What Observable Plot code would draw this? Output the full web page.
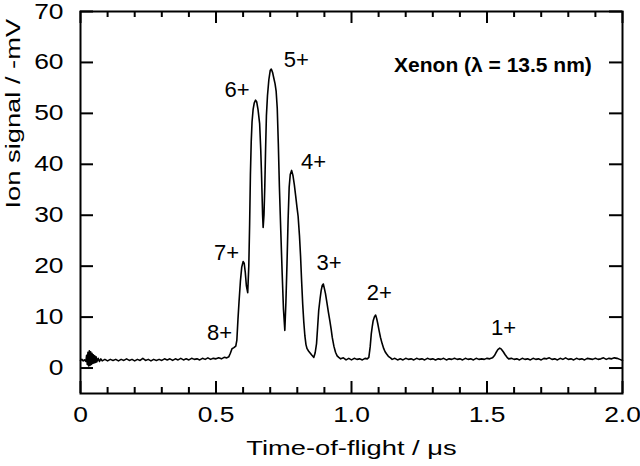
<!DOCTYPE html>
<html>
<head>
<meta charset="utf-8">
<script src="https://cdn.jsdelivr.net/npm/d3@7"></script>
<script src="https://cdn.jsdelivr.net/npm/@observablehq/plot@0.6"></script>
<style>
html, body { margin: 0; padding: 0; background: #fff; }
#chart svg { display: block; }
</style>
</head>
<body>
<div id="chart"></div>
<script>
// Time-of-flight (µs)
const time = [
  0.000, 0.005, 0.010, 0.015, 0.020, 0.0225, 0.025, 0.0275, 0.030, 0.0325, 0.035, 0.0375, 0.040, 0.0425, 0.045, 0.0475,
  0.050, 0.0525, 0.055, 0.0575, 0.060, 0.065, 0.070, 0.075, 0.080, 0.09,
  0.10, 0.11, 0.12, 0.13, 0.14, 0.15, 0.16, 0.17, 0.18, 0.19,
  0.20, 0.21, 0.22, 0.23, 0.24, 0.25, 0.26, 0.27, 0.28, 0.29,
  0.30, 0.31, 0.32, 0.33, 0.34, 0.35, 0.36, 0.37, 0.38, 0.39,
  0.40, 0.41, 0.42, 0.43, 0.44, 0.45, 0.46, 0.47, 0.48, 0.49,
  0.50, 0.51, 0.52, 0.53, 0.540, 0.547, 0.553, 0.559, 0.566, 0.573, 0.577, 0.581, 0.585, 0.590, 0.595,
  0.600, 0.604, 0.608, 0.612, 0.617, 0.621, 0.624, 0.627, 0.630, 0.633, 0.637, 0.641, 0.646,
  0.650, 0.655, 0.661, 0.665, 0.668, 0.672, 0.674, 0.677, 0.680, 0.683, 0.686, 0.690, 0.695,
  0.700, 0.704, 0.709, 0.713, 0.718, 0.722, 0.726, 0.730, 0.734, 0.739, 0.744, 0.749,
  0.754, 0.758, 0.762, 0.766, 0.770, 0.774, 0.779, 0.784, 0.789, 0.794, 0.799,
  0.803, 0.808, 0.812, 0.816, 0.820, 0.824, 0.828, 0.832, 0.836, 0.842, 0.848,
  0.854, 0.861, 0.866, 0.871, 0.875, 0.879, 0.884, 0.888, 0.892, 0.896,
  0.900, 0.904, 0.910, 0.915, 0.920, 0.925, 0.929, 0.935, 0.941, 0.947, 0.953,
  0.96, 0.97, 0.98, 0.99, 1.00, 1.01, 1.02, 1.03, 1.04, 1.05, 1.058,
  1.064, 1.069, 1.073, 1.077, 1.080, 1.085, 1.089, 1.093, 1.097,
  1.102, 1.107, 1.113, 1.119, 1.124, 1.129, 1.136, 1.144, 1.15,
  1.16, 1.17, 1.18, 1.19, 1.20, 1.21, 1.22, 1.23, 1.24, 1.25, 1.26, 1.27, 1.28, 1.29,
  1.30, 1.31, 1.32, 1.33, 1.34, 1.35, 1.36, 1.37, 1.38, 1.39,
  1.40, 1.41, 1.42, 1.43, 1.44, 1.45, 1.46, 1.47, 1.48, 1.49,
  1.50, 1.51, 1.52, 1.527, 1.533, 1.540, 1.547, 1.553, 1.560, 1.567, 1.574, 1.58, 1.59,
  1.60, 1.61, 1.62, 1.63, 1.64, 1.65, 1.66, 1.67, 1.68, 1.69,
  1.70, 1.71, 1.72, 1.73, 1.74, 1.75, 1.76, 1.77, 1.78, 1.79,
  1.80, 1.81, 1.82, 1.83, 1.84, 1.85, 1.86, 1.87, 1.88, 1.89,
  1.90, 1.91, 1.92, 1.93, 1.94, 1.95, 1.96, 1.97, 1.98, 1.99, 2.00
];
// Ion signal (-mV)
const signal = [
  1.5, 1.7, 1.4, 1.6, 1.3, 2.5, 0.7, 3.1, 0.4, 3.4, 0.5, 3.2, 0.7, 2.9, 0.9, 2.6,
  1.0, 2.4, 1.1, 2.2, 1.2, 1.9, 1.3, 1.8, 1.4, 1.7,
  1.4, 1.7, 1.5, 1.7, 1.4, 1.7, 1.5, 1.8, 1.5, 1.7,
  1.4, 1.7, 1.5, 1.9, 1.5, 1.7, 1.4, 1.7, 1.5, 1.7,
  1.5, 1.8, 1.6, 1.8, 1.5, 1.8, 1.6, 1.9, 1.6, 1.8,
  1.6, 1.9, 1.7, 1.8, 1.6, 1.9, 1.7, 2.0, 1.7, 1.9,
  1.8, 2.0, 1.8, 2.1, 2.0, 2.2, 2.9, 3.8, 4.0, 4.3, 5.5, 9.5, 13.0, 17.0, 19.8,
  20.9, 20.6, 18.8, 16.2, 14.8, 20.0, 28.0, 38.0, 44.5, 48.3, 50.8, 52.0, 52.6,
  52.3, 50.8, 48.0, 43.0, 38.0, 30.0, 27.6, 30.0, 35.5, 43.0, 49.5, 53.5, 56.6,
  58.4, 58.7, 58.0, 57.0, 55.8, 54.3, 51.0, 44.0, 35.5, 27.0, 18.8, 11.5,
  7.4, 13.0, 20.5, 29.0, 35.5, 38.0, 38.8, 37.8, 36.0, 33.8, 31.5,
  29.8, 26.0, 22.0, 17.0, 12.5, 9.0, 6.3, 4.6, 3.8, 3.3, 2.9,
  2.5, 2.1, 3.0, 4.8, 8.0, 11.3, 13.6, 15.2, 16.2, 16.5,
  15.6, 14.6, 12.6, 10.9, 9.3, 7.6, 6.0, 4.3, 3.1, 2.4, 2.1,
  1.8, 2.0, 1.6, 1.9, 1.6, 1.9, 1.7, 1.8, 1.6, 1.9, 1.8,
  2.1, 4.2, 6.7, 8.3, 9.3, 10.1, 10.4, 9.7, 8.7,
  7.3, 6.0, 4.8, 3.8, 3.2, 2.8, 2.3, 2.0, 1.7,
  1.9, 1.6, 1.8, 1.6, 1.9, 1.7, 1.8, 1.6, 1.9, 1.7, 1.8, 1.6, 1.9, 1.7,
  1.8, 1.6, 1.8, 1.7, 1.9, 1.6, 1.8, 1.7, 1.9, 1.7,
  1.8, 1.6, 1.9, 1.7, 1.8, 1.6, 1.9, 1.7, 1.8, 1.7,
  1.9, 1.8, 2.0, 2.4, 3.0, 3.6, 3.9, 3.7, 3.2, 2.6, 2.1, 1.8, 1.9,
  1.7, 1.8, 1.6, 1.9, 1.7, 1.8, 1.6, 1.9, 1.7, 1.8,
  1.6, 1.9, 1.8, 2.0, 1.7, 1.8, 1.6, 1.9, 1.7, 2.0,
  1.7, 1.8, 1.6, 1.9, 1.7, 1.8, 1.6, 1.9, 1.8, 1.7,
  1.9, 1.7, 1.8, 2.0, 1.7, 1.9, 1.8, 2.0, 1.9, 1.7, 1.5
];

// Peak annotations (charge states), anchored in data units
const peakLabels = ["8+", "7+", "6+", "5+", "4+", "3+", "2+", "1+"];
const peakLabelTime = [0.513, 0.539, 0.578, 0.796, 0.860, 0.917, 1.103, 1.561];
const peakLabelSignal = [6.8, 22.6, 54.5, 60.4, 40.4, 20.7, 14.7, 7.9];

const noteText = ["Xenon (\u03bb = 13.5 nm)"];
const noteTime = [1.522];
const noteSignal = [59.4];

// Axis ticks
const xMajorTicks = [0, 0.5, 1.0, 1.5, 2.0];
const xMinorTicks = [0.1, 0.2, 0.3, 0.4, 0.6, 0.7, 0.8, 0.9, 1.1, 1.2, 1.3, 1.4, 1.6, 1.7, 1.8, 1.9];
const yMajorTicks = [0, 10, 20, 30, 40, 50, 60, 70];
const xTitle = "Time-of-flight / \u03bcs";
const yTitle = "Ion signal / -mV";

const trace = time.map((t, i) => ({t, s: signal[i]}));
const peaks = peakLabels.map((label, i) => ({label, t: peakLabelTime[i], s: peakLabelSignal[i]}));
const notes = noteText.map((label, i) => ({label, t: noteTime[i], s: noteSignal[i]}));

const W = 640, H = 466;
const mL = 80, mR = 18, mT = 11, mB = 73;
const innerW = W - mL - mR, innerH = H - mT - mB;
const majorLenX = 12, minorLenX = 6, majorLenY = 13;

const chart = Plot.plot({
  width: W,
  height: H,
  marginLeft: mL,
  marginRight: mR,
  marginTop: mT,
  marginBottom: mB,
  style: {fontFamily: "'Liberation Sans', Arial, Helvetica, sans-serif", color: "black", background: "white", overflow: "visible"},
  x: {domain: [0, 2], label: null},
  y: {domain: [-5, 70], label: null},
  marks: [
    // ticks pointing inward on all four sides
    Plot.ruleX(xMajorTicks, {x: d => d, stroke: "black", strokeWidth: 2, insetTop: innerH - majorLenX}),
    Plot.ruleX(xMajorTicks, {x: d => d, stroke: "black", strokeWidth: 2, insetBottom: innerH - majorLenX}),
    Plot.ruleX(xMinorTicks, {x: d => d, stroke: "black", strokeWidth: 2, insetTop: innerH - minorLenX}),
    Plot.ruleX(xMinorTicks, {x: d => d, stroke: "black", strokeWidth: 2, insetBottom: innerH - minorLenX}),
    Plot.ruleY(yMajorTicks, {y: d => d, stroke: "black", strokeWidth: 2, insetRight: innerW - majorLenY}),
    Plot.ruleY(yMajorTicks, {y: d => d, stroke: "black", strokeWidth: 2, insetLeft: innerW - majorLenY}),
    Plot.line(trace, {x: "t", y: "s", stroke: "black", strokeWidth: 1.6, strokeLinejoin: "round"}),
    Plot.frame({stroke: "black", strokeWidth: 2}),
    Plot.axisX({ticks: xMajorTicks, tickSize: 0, tickPadding: 13, fontSize: 22, tickFormat: d => d === 0 ? "0" : d.toFixed(1), label: null}),
    Plot.axisY({ticks: yMajorTicks, tickSize: 0, tickPadding: 17, fontSize: 22, label: null}),
    Plot.text([xTitle], {frameAnchor: "bottom", lineAnchor: "top", dy: 47, fontSize: 21, fill: "black"}),
    Plot.text([yTitle], {frameAnchor: "left", rotate: -90, lineAnchor: "top", dx: -75, dy: 6, fontSize: 21, fill: "black"}),
    Plot.text(peaks, {x: "t", y: "s", text: "label", fontSize: 22, fill: "black", lineAnchor: "middle"}),
    Plot.text(notes, {x: "t", y: "s", text: "label", fontSize: 21, fontWeight: "bold", fill: "black", lineAnchor: "middle"})
  ]
});

// The reference's axis typeface is wider than Arial; widen those texts along their reading direction.
function widenText(t, s) {
  const tr = t.getAttribute("transform") || "";
  t.setAttribute("transform", `${tr} scale(${s},1)`);
}
chart.querySelectorAll('g[aria-label="x-axis tick label"] text, g[aria-label="y-axis tick label"] text')
  .forEach(t => widenText(t, 1.2));
chart.querySelectorAll("text").forEach(t => {
  if (t.textContent === xTitle || t.textContent === yTitle) widenText(t, 1.3);
});

document.getElementById("chart").appendChild(chart);
</script>
</body>
</html>
